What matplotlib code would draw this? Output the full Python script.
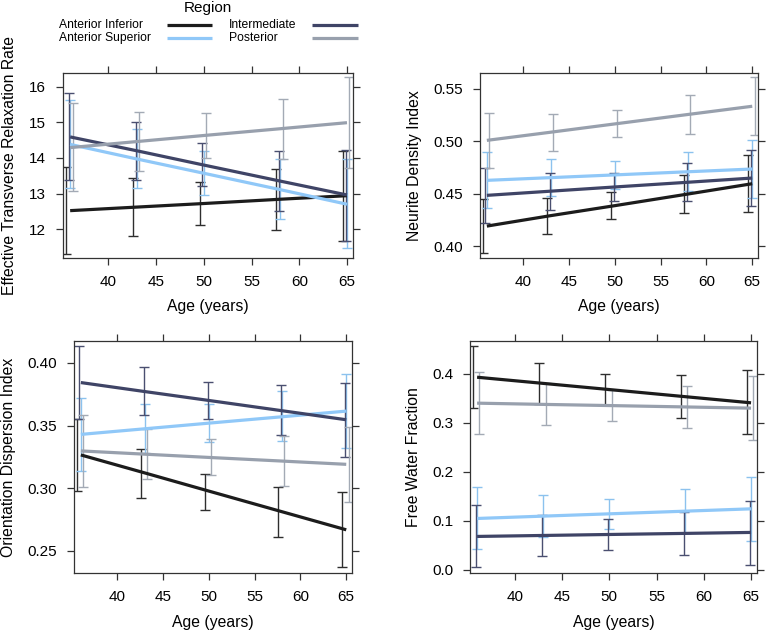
import matplotlib
matplotlib.use('Agg')
import matplotlib.pyplot as plt
from matplotlib.lines import Line2D
import numpy as np

plt.rcParams['font.family'] = ['Liberation Sans', 'DejaVu Sans']

W, H = 767, 632

ages = [36, 43, 50, 58, 65]
regions = ["Anterior Inferior", "Anterior Superior", "Intermediate", "Posterior"]
line_colors = ["#1c1c1c", "#90c8f8", "#3f4466", "#98a0ad"]
bar_colors = ["#2e2e2e", "#8cc2ee", "#4a4f70", "#a3aab5"]
bar_offsets = [-0.45, 0.0, -0.15, 0.25]

# effective transverse relaxation rate (R2*)
r2_fit = {
    "Anterior Inferior": [12.52, 12.62, 12.72, 12.84, 12.94],
    "Anterior Superior": [14.38, 13.97, 13.57, 13.11, 12.70],
    "Intermediate": [14.59, 14.20, 13.80, 13.35, 12.96],
    "Posterior": [14.29, 14.46, 14.63, 14.82, 14.99],
}
r2_lo = {
    "Anterior Inferior": [11.31, 11.81, 12.11, 11.99, 11.67],
    "Anterior Superior": [13.15, 13.16, 12.97, 12.28, 11.46],
    "Intermediate": [13.37, 13.38, 13.20, 12.52, 11.68],
    "Posterior": [13.07, 13.64, 14.01, 13.98, 13.73],
}
r2_hi = {
    "Anterior Inferior": [13.75, 13.45, 13.33, 13.68, 14.19],
    "Anterior Superior": [15.62, 14.80, 14.20, 13.97, 13.96],
    "Intermediate": [15.81, 15.00, 14.41, 14.20, 14.22],
    "Posterior": [15.53, 15.28, 15.25, 15.65, 16.26],
}

# neurite density index
ndi_fit = {
    "Anterior Inferior": [0.4190, 0.4290, 0.4385, 0.4496, 0.4594],
    "Anterior Superior": [0.4626, 0.4652, 0.4678, 0.4708, 0.4734],
    "Intermediate": [0.4483, 0.4523, 0.4563, 0.4608, 0.4648],
    "Posterior": [0.5007, 0.5085, 0.5164, 0.5254, 0.5332],
}
ndi_lo = {
    "Anterior Inferior": [0.3933, 0.4118, 0.4258, 0.4315, 0.4324],
    "Anterior Superior": [0.4359, 0.4474, 0.4546, 0.4523, 0.4461],
    "Intermediate": [0.4219, 0.4346, 0.4433, 0.4425, 0.4378],
    "Posterior": [0.4743, 0.4908, 0.5035, 0.5071, 0.5061],
}
ndi_hi = {
    "Anterior Inferior": [0.4447, 0.4458, 0.4512, 0.4677, 0.4864],
    "Anterior Superior": [0.4893, 0.4830, 0.4810, 0.4893, 0.5007],
    "Intermediate": [0.4747, 0.4700, 0.4693, 0.4791, 0.4918],
    "Posterior": [0.5271, 0.5262, 0.5293, 0.5436, 0.5611],
}

# orientation dispersion index
odi_fit = {
    "Anterior Inferior": [0.3265, 0.3121, 0.2976, 0.2811, 0.2667],
    "Anterior Superior": [0.3429, 0.3474, 0.3519, 0.3570, 0.3615],
    "Intermediate": [0.3843, 0.3771, 0.3700, 0.3618, 0.3546],
    "Posterior": [0.3297, 0.3271, 0.3245, 0.3216, 0.3190],
}
odi_lo = {
    "Anterior Inferior": [0.2973, 0.2925, 0.2827, 0.2612, 0.2370],
    "Anterior Superior": [0.3137, 0.3280, 0.3370, 0.3376, 0.3318],
    "Intermediate": [0.3551, 0.3580, 0.3554, 0.3421, 0.3249],
    "Posterior": [0.3005, 0.3070, 0.3103, 0.3018, 0.2893],
}
odi_hi = {
    "Anterior Inferior": [0.3551, 0.3312, 0.3116, 0.3012, 0.2967],
    "Anterior Superior": [0.3721, 0.3668, 0.3668, 0.3774, 0.3915],
    "Intermediate": [0.4135, 0.3968, 0.3849, 0.3822, 0.3843],
    "Posterior": [0.3583, 0.3470, 0.3390, 0.3413, 0.3487],
}

# free water fraction
fwf_fit = {
    "Anterior Inferior": [0.3932, 0.3806, 0.3680, 0.3535, 0.3409],
    "Anterior Superior": [0.1046, 0.1094, 0.1141, 0.1195, 0.1243],
    "Intermediate": [0.0679, 0.0699, 0.0719, 0.0741, 0.0761],
    "Posterior": [0.3402, 0.3377, 0.3353, 0.3325, 0.3300],
}
fwf_lo = {
    "Anterior Inferior": [0.3294, 0.3388, 0.3360, 0.3097, 0.2764],
    "Anterior Superior": [0.0421, 0.0667, 0.0829, 0.0747, 0.0591],
    "Intermediate": [0.0054, 0.0272, 0.0408, 0.0299, 0.0102],
    "Posterior": [0.2764, 0.2947, 0.3042, 0.2886, 0.2642],
}
fwf_hi = {
    "Anterior Inferior": [0.4577, 0.4224, 0.4000, 0.3973, 0.4075],
    "Anterior Superior": [0.1684, 0.1521, 0.1453, 0.1643, 0.1902],
    "Intermediate": [0.1324, 0.1127, 0.1032, 0.1175, 0.1412],
    "Posterior": [0.4041, 0.3807, 0.3664, 0.3756, 0.3959],
}

panels = [
    # (fit, lo, hi, ylabel, yticks, fmt, ylim, box px [l, t, r, b])
    (r2_fit, r2_lo, r2_hi, "Effective Transverse Relaxation Rate",
     [12, 13, 14, 15, 16], "{:.0f}", (11.19, 16.385), (63, 73, 353, 258)),
    (ndi_fit, ndi_lo, ndi_hi, "Neurite Density Index",
     [0.40, 0.45, 0.50, 0.55], "{:.2f}", (0.3886, 0.5649), (480, 73, 758, 258)),
    (odi_fit, odi_lo, odi_hi, "Orientation Dispersion Index",
     [0.25, 0.30, 0.35, 0.40], "{:.2f}", (0.2322, 0.4175), (74, 341, 352, 573)),
    (fwf_fit, fwf_lo, fwf_hi, "Free Water Fraction",
     [0.0, 0.1, 0.2, 0.3, 0.4], "{:.1f}", (-0.0068, 0.4672), (470, 341, 757, 573)),
]
ylabel_x = [10, 415, 9, 413]
xlabel_y = [306, 307, 623, 622]

fig = plt.figure(figsize=(W / 100, H / 100), dpi=100)
edge = "#333333"

for k, (fit, lo, hi, ylab, yt, fmt, ylim, box) in enumerate(panels):
    l, t, r, b = box
    ax = fig.add_axes([l / W, 1 - b / H, (r - l) / W, (b - t) / H])
    for i, reg in enumerate(regions):
        f = np.array(fit[reg])
        x = np.array(ages) + bar_offsets[i]
        ax.errorbar(x, f, yerr=[f - np.array(lo[reg]), np.array(hi[reg]) - f],
                    fmt='none', ecolor=bar_colors[i], elinewidth=1.0,
                    capsize=3.6, capthick=1.0, zorder=2)
    for i, reg in enumerate(regions):
        ax.plot(ages, fit[reg], color=line_colors[i], lw=2.3,
                solid_capstyle='butt', zorder=3)
    ax.set_xlim(35.25, 65.63)
    ax.set_ylim(*ylim)
    ax.set_xticks([40, 45, 50, 55, 60, 65])
    ax.set_yticks(yt)
    ax.set_yticklabels([fmt.format(v) for v in yt])
    ax.tick_params(direction='out', length=5, width=0.9, color=edge,
                   labelsize=11, pad=7, top=True, right=True,
                   labeltop=False, labelright=False)
    for s in ax.spines.values():
        s.set_color(edge)
        s.set_linewidth(0.9)
    xc = (l + r) / 2
    yc = (t + b) / 2
    fig.text(xc / W, 1 - xlabel_y[k] / H, "Age (years)", ha='center',
             va='center', fontsize=11.3)
    fig.text(ylabel_x[k] / W, 1 - yc / H, ylab, ha='center', va='center',
             rotation=90, fontsize=11.3)

# legend
fig.text(208 / W, 1 - 8 / H, "Region", ha='center', va='center', fontsize=11)
leg_pos = [(59, 25, 167, 212), (59, 38, 167, 212),
           (229, 25, 312, 358), (229, 38, 312, 358)]
for i, reg in enumerate(regions):
    lx, ly, x0, x1 = leg_pos[i]
    fig.text(lx / W, 1 - ly / H, reg, ha='left', va='center', fontsize=8.7)
    fig.add_artist(Line2D([x0 / W, x1 / W], [1 - ly / H, 1 - ly / H],
                          transform=fig.transFigure, color=line_colors[i],
                          lw=2.3, solid_capstyle='butt'))

fig.savefig("out.png", dpi=100)
